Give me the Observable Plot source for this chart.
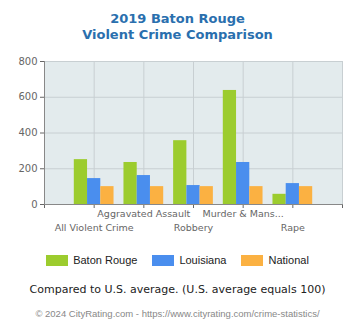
<!DOCTYPE html>
<html>
<head>
<meta charset="utf-8">
<script src="https://cdn.jsdelivr.net/npm/d3@7"></script>
<script src="https://cdn.jsdelivr.net/npm/@observablehq/plot@0.6"></script>
<style>
  body { margin: 0; background: #fff; width: 355px; height: 330px; position: relative; overflow: hidden; }
  #title { position: absolute; top: 11px; left: 0; width: 355px; text-align: center; font: bold 13px "DejaVu Sans", Verdana, sans-serif; line-height: 16px; color: #2a6fae; }
  #chart { position: absolute; top: 50px; left: 0; }
  #legend { position: absolute; top: 254px; left: 0; width: 355px; display: flex; justify-content: center; gap: 15px; font: 11px "Liberation Sans", Arial, sans-serif; color: #222; }
  #legend .item { display: flex; align-items: center; gap: 5px; }
  #legend .sw { width: 22px; height: 11px; display: inline-block; }
  #caption { position: absolute; top: 282px; left: 0; width: 355px; text-align: center; font: 11px "DejaVu Sans", Verdana, sans-serif; color: #222; line-height: 16px; }
  #footer { position: absolute; top: 308px; left: 0; width: 355px; text-align: center; font: 9.5px "Liberation Sans", Arial, sans-serif; color: #888; line-height: 12px; }
</style>
</head>
<body>
<div id="title">2019 Baton Rouge<br>Violent Crime Comparison</div>
<div id="chart"></div>
<div id="legend"></div>
<div id="caption">Compared to U.S. average. (U.S. average equals 100)</div>
<div id="footer">© 2024 CityRating.com - https://www.cityrating.com/crime-statistics/</div>
<script>
const categories = ["All Violent Crime", "Aggravated Assault", "Robbery", "Murder & Manslaughter", "Rape"];
const tickLabels = ["All Violent Crime", "Aggravated Assault", "Robbery", "Murder & Mans...", "Rape"];
const series = ["Baton Rouge", "Louisiana", "National"];
const batonRouge = [251, 235, 357, 638, 57];
const louisiana = [145, 162, 106, 235, 117];
const national = [100, 100, 100, 100, 100];
const seriesColors = ["#9ccc2e", "#4a8eee", "#fbb142"];
const yTicks = [0, 200, 400, 600, 800];

const values = [batonRouge, louisiana, national];
const groupWidth = 0.8;
const barW = groupWidth / series.length;
const rows = [];
categories.forEach((c, ci) => {
  series.forEach((s, si) => {
    const x1 = ci + 1 - groupWidth / 2 + si * barW;
    rows.push({category: c, series: s, value: values[si][ci], x1, x2: x1 + barW});
  });
});
const xTicks = d3.range(0, categories.length + 2);
const labelRows = tickLabels.map((t, i) => ({text: t, x: i + 1, row: i % 2 === 1 ? 0 : 1}));

const chart = Plot.plot({
  width: 355,
  height: 190,
  marginLeft: 44,
  marginRight: 13,
  marginTop: 11,
  marginBottom: 36,
  style: {fontFamily: "'DejaVu Sans', Verdana, sans-serif", fontSize: "10px", color: "#666", background: "transparent"},
  x: {domain: [0, categories.length + 1], ticks: xTicks, tickFormat: () => "", tickSize: 4, label: null},
  y: {domain: [0, 800], ticks: yTicks, tickSize: 4, tickPadding: 3, label: null},
  color: {domain: series, range: seriesColors},
  marks: [
    Plot.frame({fill: "#e3ebed", stroke: null}),
    Plot.ruleY(yTicks, {stroke: "#c8cfd2"}),
    Plot.ruleX(xTicks, {stroke: "#c8cfd2"}),
    Plot.rectY(rows, {x1: "x1", x2: "x2", y1: 0, y2: "value", fill: "series"}),
    Plot.ruleX([0], {stroke: "#888"}),
    Plot.ruleY([0], {stroke: "#888"}),
    Plot.text(labelRows.filter(d => d.row === 0), {x: "x", text: "text", frameAnchor: "bottom", lineAnchor: "top", dy: 6, fontSize: 9.5, fill: "#666"}),
    Plot.text(labelRows.filter(d => d.row === 1), {x: "x", text: "text", frameAnchor: "bottom", lineAnchor: "top", dy: 20, fontSize: 9.5, fill: "#666"})
  ]
});
document.getElementById("chart").appendChild(chart);

const legend = document.getElementById("legend");
series.forEach((s, i) => {
  const item = document.createElement("div");
  item.className = "item";
  const sw = document.createElement("span");
  sw.className = "sw";
  sw.style.background = seriesColors[i];
  const label = document.createElement("span");
  label.textContent = s;
  item.appendChild(sw);
  item.appendChild(label);
  legend.appendChild(item);
});
</script>
</body>
</html>
